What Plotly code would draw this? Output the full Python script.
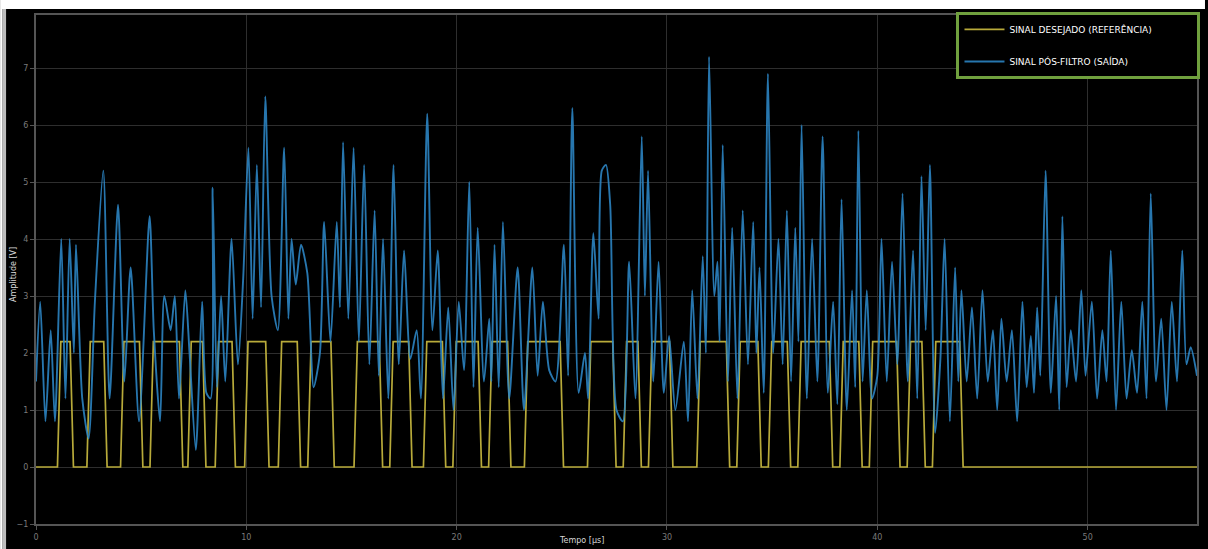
import plotly.graph_objects as go

# ---------------- data ----------------
# reference (desired) signal: rise / fall times in µs and its high level in V
ref_rise = [1.1, 2.5, 4.1, 5.5, 7.3, 8.6, 10.0, 11.6, 13.0, 15.2, 16.9, 18.5, 19.9,
            21.6, 23.3, 26.3, 28.0, 29.2, 31.5, 33.4, 34.9, 36.3, 38.3, 39.7, 41.5, 42.7]
ref_fall = [1.7, 3.3, 5.0, 6.9, 8.0, 9.4, 11.0, 12.5, 14.1, 16.4, 17.8, 19.4, 21.1,
            22.5, 25.0, 27.5, 28.7, 30.2, 32.9, 34.4, 35.8, 37.8, 39.2, 41.0, 42.2, 44.0]
ref_high = 2.2
t_end = 55.2

# filtered output signal: (time µs, amplitude V) read at peaks and troughs
out_t = [0.0, 0.2, 0.45, 0.7, 0.9, 1.2, 1.4, 1.6, 1.8, 1.9, 2.2, 2.5, 2.8, 3.2, 3.5, 3.9,
         4.2, 4.5, 4.9, 5.4, 5.6, 5.9, 6.1, 6.4, 6.6, 6.8, 7.1, 7.3, 7.6, 7.9, 8.1, 8.3,
         8.4, 8.6, 8.8, 9.0, 9.3, 9.6, 9.85,
         10.1, 10.3, 10.5, 10.7, 10.9, 11.2, 11.5, 11.8, 12.0, 12.15, 12.35, 12.6, 12.9,
         13.2, 13.5, 13.7, 14.0, 14.3, 14.45, 14.6, 14.85, 15.1, 15.35, 15.6, 15.85, 16.1,
         16.3, 16.5, 16.75, 17.0, 17.25, 17.5, 17.8, 18.1, 18.3, 18.6, 18.85, 19.1, 19.35,
         19.6, 19.85,
         20.1, 20.35, 20.6, 20.8, 21.0, 21.3, 21.55, 21.65, 21.8, 22.0, 22.2, 22.5, 22.9,
         23.2, 23.6, 23.85, 24.1, 24.4, 24.7, 25.1, 25.3, 25.5, 25.8, 26.1, 26.25, 26.5,
         26.75, 26.9, 27.1, 27.3, 27.6, 27.9, 28.2, 28.5, 28.8, 28.95, 29.1, 29.35, 29.6,
         29.85,
         30.1, 30.4, 30.8, 31.0, 31.2, 31.45, 31.7, 31.85, 32.0, 32.25, 32.4, 32.5, 32.65,
         32.9, 33.1, 33.35, 33.6, 33.85, 34.1, 34.25, 34.4, 34.6, 34.8, 35.05, 35.3, 35.5,
         35.7, 35.9, 36.1, 36.25, 36.4, 36.65, 36.9, 37.15, 37.4, 37.65, 37.9, 38.1, 38.3,
         38.55, 38.8, 38.95, 39.1, 39.3, 39.5, 39.75,
         40.0, 40.2, 40.45, 40.7, 40.95, 41.2, 41.45, 41.7, 41.9, 42.1, 42.3, 42.5, 42.75,
         43.0, 43.2, 43.45, 43.7, 43.85, 44.0, 44.25, 44.5, 44.75, 45.0, 45.25, 45.5, 45.7,
         45.9, 46.15, 46.4, 46.65, 46.9, 47.1, 47.3, 47.45, 47.6, 47.75, 48.0, 48.25, 48.5,
         48.65, 48.8, 49.0, 49.2, 49.45, 49.7, 49.9,
         50.2, 50.45, 50.7, 50.9, 51.1, 51.35, 51.6, 51.85, 52.1, 52.35, 52.6, 52.8, 53.0,
         53.25, 53.5, 53.75, 54.0, 54.25, 54.5, 54.7, 54.9, 55.2]
out_v = [1.5, 2.9, 0.8, 2.4, 0.8, 4.0, 1.2, 4.0, 2.0, 3.9, 1.2, 0.5, 2.9, 5.2, 1.2, 4.6,
         1.5, 3.5, 0.8, 4.4, 2.4, 0.8, 3.0, 2.4, 3.0, 1.2, 3.1, 2.0, 0.3, 2.9, 1.3, 1.2,
         4.9, 1.4, 3.0, 1.5, 4.0, 1.8, 3.3,
         5.6, 2.6, 5.3, 2.8, 6.5, 3.0, 2.4, 5.6, 2.6, 4.0, 3.2, 3.9, 3.4,
         1.4, 2.0, 4.3, 2.2, 4.3, 2.8, 5.7, 2.6, 5.6, 2.2, 5.3, 1.8, 4.5,
         1.6, 4.0, 1.2, 5.3, 1.8, 3.8, 1.9, 2.4, 1.2, 6.2, 2.4, 3.8, 1.2,
         2.8, 1.0,
         2.9, 1.7, 5.0, 1.4, 4.2, 1.5, 2.6, 1.5, 3.9, 1.4, 4.3, 1.2, 3.5,
         1.0, 3.5, 1.6, 2.9, 1.7, 1.5, 3.9, 1.6, 6.3, 1.3, 2.0, 1.2, 4.1,
         2.6, 5.2, 5.3, 4.6, 1.0, 0.8, 3.6, 1.2, 5.8, 3.0, 5.2, 1.5, 3.6,
         1.3,
         2.3, 1.0, 2.2, 0.8, 3.1, 1.2, 3.7, 2.0, 7.2, 3.0, 3.6, 2.2, 5.65,
         1.5, 4.2, 1.2, 4.5, 1.8, 4.3, 2.0, 3.5, 1.3, 6.9, 2.0, 4.0, 1.8,
         4.5, 1.5, 4.2, 2.2, 6.0, 1.2, 4.0, 1.5, 5.8, 1.3, 2.9, 1.1, 4.7,
         1.0, 3.1, 1.4, 5.9, 1.5, 3.1, 1.2,
         1.6, 4.0, 1.5, 3.6, 1.8, 4.8, 1.5, 3.8, 1.2, 5.1, 2.4, 5.3, 0.6,
         1.9, 4.0, 0.8, 3.5, 1.5, 3.1, 1.5, 2.8, 1.2, 3.1, 1.5, 2.4, 1.0,
         2.6, 1.5, 2.4, 0.8, 2.9, 1.4, 2.3, 1.3, 2.8, 1.6, 5.2, 1.3, 3.0,
         1.0, 4.4, 1.4, 2.4, 1.5, 3.1, 1.6,
         2.9, 1.2, 2.4, 1.5, 3.8, 1.0, 2.9, 1.2, 2.05, 1.3, 2.9, 1.2, 4.8,
         1.5, 2.6, 1.0, 2.9, 1.5, 3.8, 1.8, 2.1, 1.6]

x_ticks = [0, 10, 20, 30, 40, 50]
y_ticks = [-1, 0, 1, 2, 3, 4, 5, 6, 7]

name_ref = "SINAL DESEJADO (REFERÊNCIA)"
name_out = "SINAL PÓS-FILTRO (SAÍDA)"

# ---------------- build reference trapezoid ----------------
ramp = 0.16
ref_x, ref_y = [0.0], [0.0]
for r, f in zip(ref_rise, ref_fall):
    ref_x += [r - ramp / 2, r + ramp / 2, f - ramp / 2, f + ramp / 2]
    ref_y += [0.0, ref_high, ref_high, 0.0]
ref_x.append(t_end)
ref_y.append(0.0)

pad = "\u00a0" * 14

fig = go.Figure()
fig.add_trace(go.Scatter(x=ref_x, y=ref_y, mode="lines", name=name_ref + pad,
                         legendgroup="a",
                         line=dict(color="rgb(184,170,58)", width=1.7)))
fig.add_trace(go.Scatter(x=out_t, y=out_v, mode="lines", name=name_out,
                         legendgroup="b",
                         line=dict(color="rgba(44,134,198,0.88)", width=1.9,
                                   shape="spline", smoothing=0.7)))

L, R, T, B = 36, 8, 15, 25
W, H = 1208, 549
pw, ph = W - L - R, H - T - B

def px_x(px):
    return (px - L) / pw

def px_y(py):
    return (H - B - py) / ph

axis_common = dict(showgrid=True, gridcolor="#2e2e2e", gridwidth=1,
                   zeroline=False, showline=True, linecolor="#555555", linewidth=2,
                   mirror=True, ticks="outside", ticklen=4, tickcolor="#555555",
                   tickfont=dict(size=8, color="#7a7a7a", family="DejaVu Sans"))

fig.update_xaxes(range=[0, t_end], tickvals=x_ticks, **axis_common)
fig.update_yaxes(range=[-1, 7.93], tickvals=y_ticks, **axis_common)

fig.update_layout(
    width=W, height=H,
    margin=dict(l=L, r=R, t=T, b=B),
    paper_bgcolor="black", plot_bgcolor="black",
    font=dict(family="DejaVu Sans", color="white"),
    showlegend=True,
    legend=dict(x=1.003, y=1.006, xanchor="right", yanchor="top",
                bgcolor="black", bordercolor="rgb(112,160,62)", borderwidth=3,
                font=dict(size=9, color="white", family="DejaVu Sans"),
                tracegroupgap=13, itemwidth=40),
    annotations=[
        dict(text="Amplitude [V]", xref="paper", yref="paper",
             x=px_x(13), y=px_y(275), textangle=-90, showarrow=False,
             font=dict(size=8, color="#d8d8d8"), xanchor="center", yanchor="middle"),
        dict(text="Tempo [µs]", xref="paper", yref="paper",
             x=px_x(583), y=px_y(540), showarrow=False,
             font=dict(size=8, color="#d8d8d8"), xanchor="center", yanchor="middle"),
    ],
    shapes=[
        dict(type="rect", xref="paper", yref="paper", layer="above",
             x0=px_x(0), x1=px_x(W), y0=px_y(9), y1=px_y(0),
             fillcolor="white", line=dict(width=0)),
        dict(type="rect", xref="paper", yref="paper", layer="above",
             x0=px_x(0), x1=px_x(2), y0=px_y(H), y1=px_y(9),
             fillcolor="white", line=dict(width=0)),
        dict(type="rect", xref="paper", yref="paper", layer="above",
             x0=px_x(2), x1=px_x(6), y0=px_y(H), y1=px_y(9),
             fillcolor="#bdbdbd", line=dict(width=0)),
    ],
)

fig.write_html("out.html")
